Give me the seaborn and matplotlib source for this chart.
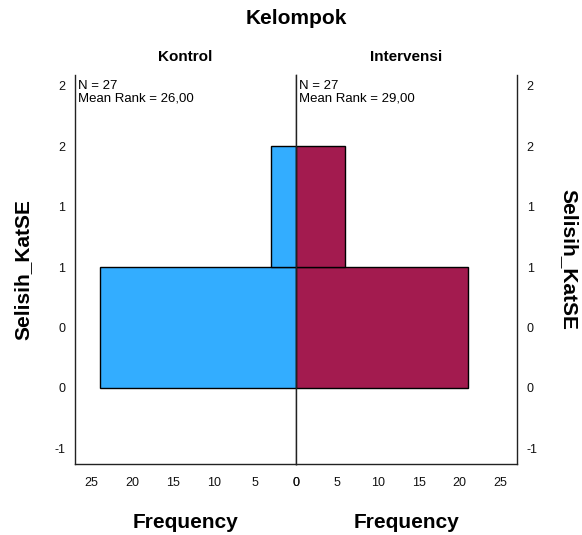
import numpy as np
import pandas as pd
import seaborn as sns
from matplotlib import pyplot as plt

# data read from the SPSS population pyramid
scores = [0, 1]
freq_kontrol = [24, 3]
freq_intervensi = [21, 6]
groups = ['Kontrol', 'Intervensi']
n_group = [27, 27]
mean_rank = ['26,00', '29,00']

ytick_vals = [-1, -0.5, 0, 0.5, 1, 1.5, 2]
ytick_labels = ['-1', '0', '0', '1', '1', '2', '2']
xtick_vals = [0, 5, 10, 15, 20, 25]

sns.set_style('white')
plt.rcParams['font.family'] = ['Liberation Sans', 'DejaVu Sans']
plt.rcParams['text.color'] = 'black'
plt.rcParams['axes.labelcolor'] = 'black'

fig = plt.figure(figsize=(5.82, 5.35), dpi=100)
ax_l = fig.add_axes([75 / 582, 1 - 464 / 535, 221 / 582, 389 / 535])
ax_r = fig.add_axes([296 / 582, 1 - 464 / 535, 221 / 582, 389 / 535])

df = pd.DataFrame({'score': scores * 2,
                   'freq': freq_kontrol + freq_intervensi,
                   'group': [groups[0]] * 2 + [groups[1]] * 2})

colors = {'Kontrol': '#33adff', 'Intervensi': '#a31b4f'}

for ax, grp, n, mr in zip([ax_l, ax_r], groups, n_group, mean_rank):
    sub = df[df['group'] == grp]
    sns.histplot(data=sub, y='score', weights='freq', discrete=True, shrink=1,
                 color=colors[grp], alpha=1, edgecolor='black', linewidth=1,
                 ax=ax)
    ax.set_ylim(-1.13, 2.09)
    ax.set_yticks(ytick_vals)
    ax.set_xticks(xtick_vals)
    ax.set_xticklabels([str(v) for v in xtick_vals], fontsize=9, color='#111111')
    ax.set_xlabel('Frequency', fontsize=15, fontweight='bold', labelpad=18,
                  color='black')
    ax.set_ylabel('')
    ax.set_title(grp, fontsize=11, fontweight='bold', pad=10, color='black')
    ax.tick_params(length=0, pad=9, axis='x')
    for sp in ax.spines.values():
        sp.set_color('#222222')
        sp.set_linewidth(1)
    ax.spines['top'].set_visible(False)
    ax.text(0.013, 0.987, f'N = {n}\nMean Rank = {mr}', transform=ax.transAxes,
            ha='left', va='top', fontsize=9.5, linespacing=1.05, color='black')

ax_l.set_xlim(27, 0)
ax_r.set_xlim(0, 27)

ax_l.set_yticklabels(ytick_labels, fontsize=9, color='#111111')
ax_l.tick_params(axis='y', length=0, pad=7)
ax_r.yaxis.tick_right()
ax_r.set_yticklabels(ytick_labels, fontsize=9, color='#111111')
ax_r.tick_params(axis='y', length=0, pad=7, labelright=True, labelleft=False)

fig.text(23 / 582, 1 - 270 / 535, 'Selisih_KatSE', rotation=90, fontsize=15,
         fontweight='bold', ha='center', va='center')
fig.text(569 / 582, 1 - 259 / 535, 'Selisih_KatSE', rotation=270, fontsize=15,
         fontweight='bold', ha='center', va='center')
fig.text(296 / 582, 1 - 18 / 535, 'Kelompok', fontsize=15, fontweight='bold',
         ha='center', va='center')

fig.savefig('out.png', dpi=100)
